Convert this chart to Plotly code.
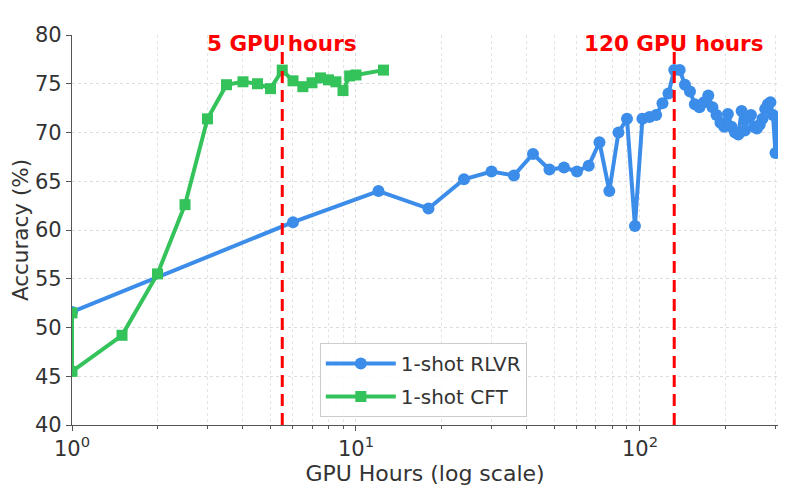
import math
import plotly.graph_objects as go

# RLVR data
rlvr_hours = [1, 6, 12, 18, 24, 30, 36, 42, 48, 54, 60, 66, 72, 78, 84, 90, 96, 102, 108, 114,
              120, 126, 132, 138, 144, 150, 156, 162, 168, 174, 180, 186, 192, 198, 204, 210,
              216, 222, 228, 234, 240, 246, 252, 258, 264, 270, 276, 282, 288, 294, 300, 306]
rlvr_acc = [51.6, 60.8, 64.0, 62.2, 65.2, 66.0, 65.6, 67.8, 66.2, 66.4, 66.0, 66.6, 69.0, 64.0,
            70.0, 71.4, 60.4, 71.4, 71.6, 71.8, 73.0, 74.0, 76.4, 76.4, 74.9, 74.2, 72.9, 72.6,
            73.1, 73.8, 72.6, 71.8, 71.0, 70.6, 71.9, 70.6, 70.0, 69.8, 72.2, 70.2, 71.5, 71.8,
            70.6, 70.4, 70.8, 71.4, 72.4, 72.9, 73.1, 71.8, 67.9, 71.0]

# CFT data
cft_hours = [1, 1, 1.5, 2, 2.5, 3, 3.5, 4, 4.5, 5, 5.5, 6, 6.5, 7, 7.5, 8, 8.5, 9, 9.5, 10, 12.5]
cft_acc = [51.5, 45.5, 49.2, 55.5, 62.6, 71.4, 74.9, 75.2, 75.0, 74.5, 76.4, 75.3, 74.7, 75.1,
           75.6, 75.4, 75.2, 74.3, 75.8, 75.9, 76.4]

# compute budget markers
budget_hours = [5.5, 132]
budget_labels = ["5 GPU hours", "120 GPU hours"]

x_tickvals = [1, 10, 100]
x_ticktext = ["10<sup>0</sup>", "10<sup>1</sup>", "10<sup>2</sup>"]
y_tickvals = [40, 45, 50, 55, 60, 65, 70, 75, 80]

BLUE = "#3B8DE9"
GREEN = "#34C25A"
FONT = "DejaVu Sans"
TXT = "#333333"

fig = go.Figure()

fig.add_trace(go.Scatter(
    x=rlvr_hours, y=rlvr_acc, mode="lines+markers", name="1-shot RLVR", legendgroup="a",
    line=dict(color=BLUE, width=4),
    marker=dict(symbol="circle", size=12, color=BLUE),
))
fig.add_trace(go.Scatter(
    x=cft_hours, y=cft_acc, mode="lines+markers", name="1-shot CFT", legendgroup="b",
    line=dict(color=GREEN, width=4),
    marker=dict(symbol="square", size=11, color=GREEN),
))

for h, lab in zip(budget_hours, budget_labels):
    fig.add_shape(type="line", x0=h, x1=h, xref="x", y0=0, y1=1, yref="paper",
                  line=dict(color="#FF0000", width=3, dash="12px,7px"), layer="above")
    fig.add_annotation(x=math.log10(h), xref="x", y=1, yref="paper", yanchor="top", yshift=6,
                       text=f"<b>{lab}</b>", showarrow=False,
                       font=dict(family=FONT, size=21.5, color="#FF0000"))

grid = dict(showgrid=True, gridcolor="#dcdcdc", griddash="dot", gridwidth=1)

fig.update_xaxes(
    type="log", range=[0, 2.486], automargin=False,
    tickvals=x_tickvals, ticktext=x_ticktext,
    ticks="outside", ticklen=5, tickcolor="#555555",
    showline=True, linecolor="#555555", linewidth=1.2,
    tickfont=dict(family=FONT, size=21, color=TXT),
    title=dict(text="GPU Hours (log scale)", font=dict(family=FONT, size=22, color=TXT), standoff=2),
    minor=dict(showgrid=True, gridcolor="#e4e4e4", griddash="dot", ticks="outside", ticklen=3,
               tickcolor="#555555", dtick="D1"),
    zeroline=False,
    **grid,
)
fig.update_yaxes(
    range=[40, 80], tickvals=y_tickvals, automargin=False,
    ticks="outside", ticklen=5, tickcolor="#555555",
    showline=True, linecolor="#555555", linewidth=1.2,
    tickfont=dict(family=FONT, size=21, color=TXT),
    title=dict(text="Accuracy (%)", font=dict(family=FONT, size=21.5, color=TXT), standoff=4),
    zeroline=False,
    **grid,
)

fig.update_layout(
    width=780, height=478,
    margin=dict(l=64, r=10, t=27, b=61),
    plot_bgcolor="white", paper_bgcolor="white",
    font=dict(family=FONT),
    legend=dict(x=0.351, y=0.21, xanchor="left", yanchor="top",
                bgcolor="rgba(255,255,255,0.85)", bordercolor="#cccccc", borderwidth=1,
                font=dict(family=FONT, size=20, color=TXT), itemwidth=70,
                tracegroupgap=4),
    showlegend=True,
)

fig.write_html("out.html")
